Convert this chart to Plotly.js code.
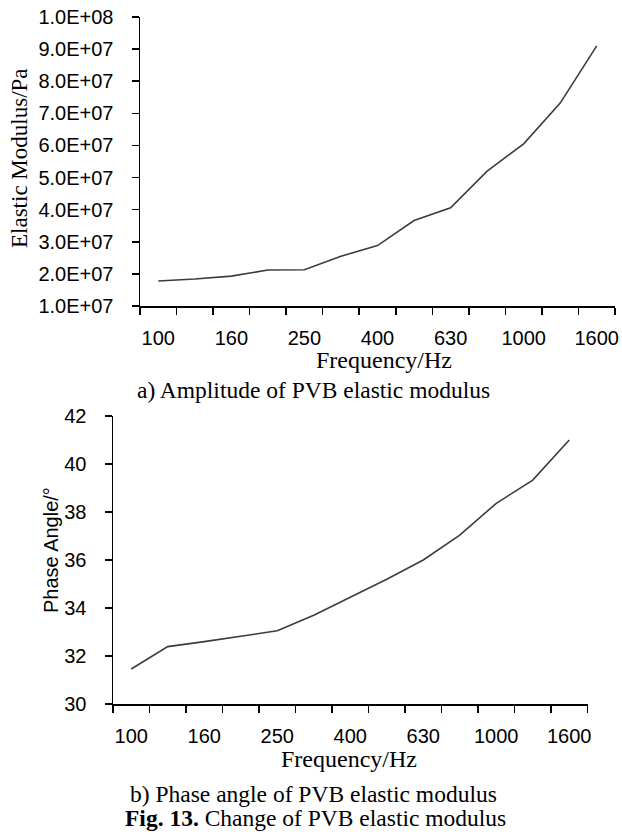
<!DOCTYPE html>
<html>
<head>
<meta charset="utf-8">
<script src="https://cdn.plot.ly/plotly-3.0.1.min.js"></script>
<style>
  html, body { margin: 0; padding: 0; background: #fff; }
  #chart { width: 622px; height: 835px; }
</style>
</head>
<body>
<div id="chart"></div>
<script>
// One-third octave band centre frequencies (Hz)
const frequencies = ['100', '125', '160', '200', '250', '315', '400', '500', '630', '800', '1000', '1250', '1600'];
// Amplitude of the PVB elastic modulus (Pa)
const elasticModulus = [1.78e7, 1.84e7, 1.93e7, 2.12e7, 2.13e7, 2.55e7, 2.88e7, 3.66e7, 4.06e7, 5.2e7, 6.05e7, 7.32e7, 9.1e7];
// Phase angle of the PVB elastic modulus (degrees)
const phaseAngle = [31.46, 32.39, 32.6, 32.83, 33.05, 33.7, 34.45, 35.2, 36.0, 37.04, 38.36, 39.33, 41.0];
// Value-axis ticks
const modulusTicks = [1e7, 2e7, 3e7, 4e7, 5e7, 6e7, 7e7, 8e7, 9e7, 1e8];
const phaseTicks = [30, 32, 34, 36, 38, 40, 42];

const W = 622, H = 835;
const px = v => v / W;
const py = v => 1 - v / H;

// Category index positions; labels every other band, ticks on band boundaries
const idx = frequencies.map((_, i) => i);
const labelIdx = idx.filter(i => i % 2 === 0);
const labelText = labelIdx.map(i => frequencies[i]);
const boundaries = idx.map(i => i - 0.5).concat([frequencies.length - 0.5]);

// Spreadsheet-style scientific notation, e.g. 1.0E+08
function sci(v) {
  const parts = v.toExponential(1).split('e');
  const n = parseInt(parts[1], 10);
  return parts[0] + 'E' + (n < 0 ? '-' : '+') + String(Math.abs(n)).padStart(2, '0');
}

const sans = 'Liberation Sans, Arial, sans-serif';
const serif = 'Liberation Serif, Times New Roman, serif';
const lineStyle = { color: '#3c3c3c', width: 1.6 };

const traces = [
  { x: idx, y: elasticModulus, xaxis: 'x', yaxis: 'y', mode: 'lines', line: lineStyle, hoverinfo: 'skip' },
  { x: idx, y: phaseAngle, xaxis: 'x2', yaxis: 'y2', mode: 'lines', line: lineStyle, hoverinfo: 'skip' }
];

function catAxis(domain, anchor) {
  return {
    domain: domain, anchor: anchor,
    range: [-0.5, frequencies.length - 0.5],
    tickmode: 'array', tickvals: labelIdx, ticktext: labelText,
    ticks: '', ticklabelstandoff: 13,
    tickfont: { family: sans, size: 20, color: '#000' },
    minor: { tickmode: 'array', tickvals: boundaries, ticks: 'outside', ticklen: 7, tickwidth: 1.5, tickcolor: '#000', showgrid: false },
    showline: true, linecolor: '#000', linewidth: 1.5,
    showgrid: false, zeroline: false, fixedrange: true
  };
}

function valAxis(domain, anchor, range, vals, text) {
  return {
    domain: domain, anchor: anchor, range: range,
    tickmode: 'array', tickvals: vals, ticktext: text,
    ticks: 'outside', ticklen: 7, tickwidth: 1.5, tickcolor: '#000',
    ticklabelstandoff: 14,
    tickfont: { family: sans, size: 20, color: '#000' },
    showline: true, linecolor: '#000', linewidth: 1.5,
    showgrid: false, zeroline: false, fixedrange: true
  };
}

function note(text, x, y, font, extra) {
  return Object.assign({
    text: text, x: px(x), y: py(y), xref: 'paper', yref: 'paper',
    xanchor: 'center', yanchor: 'middle', showarrow: false, font: font
  }, extra || {});
}

const layout = {
  width: W, height: H,
  margin: { l: 0, r: 0, t: 0, b: 0 },
  paper_bgcolor: '#fff', plot_bgcolor: '#fff',
  showlegend: false,
  xaxis: catAxis([px(140), px(615)], 'y'),
  yaxis: valAxis([py(306), py(17)], 'x', [1e7, 1e8], modulusTicks, modulusTicks.map(sci)),
  xaxis2: catAxis([px(113), px(587.5)], 'y2'),
  yaxis2: valAxis([py(704), py(416)], 'x2', [30, 42], phaseTicks, phaseTicks.map(String)),
  annotations: [
    note('Elastic Modulus/Pa', 19, 158, { family: serif, size: 23, color: '#000' }, { textangle: -90 }),
    note('Frequency/Hz', 384, 360, { family: serif, size: 24, color: '#000' }),
    note('a) Amplitude of PVB elastic modulus', 314, 390, { family: serif, size: 23.5, color: '#000' }),
    note('Phase Angle/°', 51, 550, { family: sans, size: 20, color: '#000' }, { textangle: -90 }),
    note('Frequency/Hz', 349, 759, { family: serif, size: 24, color: '#000' }),
    note('b) Phase angle of PVB elastic modulus', 313, 794, { family: serif, size: 23.5, color: '#000' }),
    note('<b>Fig. 13.</b> Change of PVB elastic modulus', 315, 818, { family: serif, size: 23.5, color: '#000' })
  ]
};

Plotly.newPlot('chart', traces, layout, { staticPlot: true, displayModeBar: false });
</script>
</body>
</html>
